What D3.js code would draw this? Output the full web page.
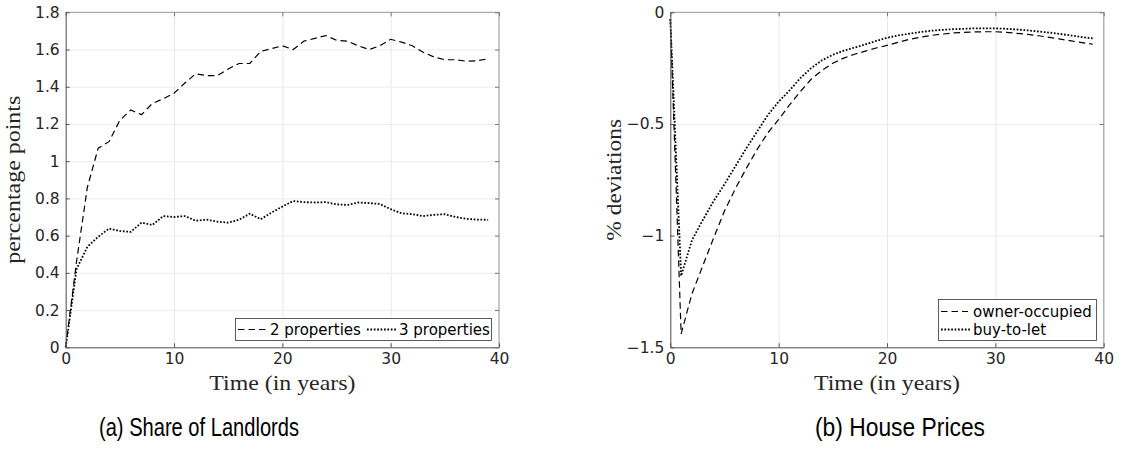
<!DOCTYPE html>
<html><head><meta charset="utf-8">
<script src="https://cdn.jsdelivr.net/npm/d3@7"></script>
<style>body{margin:0;background:#fff} svg{display:block}</style>
</head><body><svg id="c" width="1122" height="454"></svg>
<script>
// ---- data ----
const years = [0,1,2,3,4,5,6,7,8,9,10,11,12,13,14,15,16,17,18,19,20,21,22,23,24,25,26,27,28,29,30,31,32,33,34,35,36,37,38,39];
const twoProperties = [0,0.46,0.86,1.07,1.105,1.22,1.275,1.25,1.31,1.335,1.365,1.42,1.47,1.46,1.46,1.495,1.525,1.525,1.59,1.605,1.62,1.60,1.645,1.66,1.675,1.65,1.645,1.62,1.60,1.62,1.655,1.64,1.62,1.585,1.56,1.545,1.545,1.537,1.54,1.55];
const threeProperties = [0,0.42,0.54,0.594,0.638,0.625,0.62,0.67,0.657,0.705,0.70,0.705,0.68,0.686,0.675,0.67,0.685,0.718,0.688,0.724,0.756,0.786,0.78,0.778,0.78,0.768,0.765,0.778,0.775,0.77,0.742,0.72,0.715,0.705,0.712,0.715,0.70,0.69,0.686,0.685];
const ownerOccupied = [-0.03,-1.44,-1.26,-1.135,-1.01,-0.89,-0.79,-0.70,-0.615,-0.54,-0.48,-0.415,-0.355,-0.30,-0.26,-0.228,-0.205,-0.188,-0.174,-0.16,-0.148,-0.135,-0.122,-0.112,-0.104,-0.098,-0.093,-0.09,-0.088,-0.087,-0.087,-0.09,-0.094,-0.099,-0.105,-0.112,-0.12,-0.128,-0.136,-0.143];
const buyToLet = [-0.03,-1.18,-1.02,-0.93,-0.845,-0.77,-0.69,-0.61,-0.535,-0.46,-0.40,-0.35,-0.295,-0.25,-0.215,-0.19,-0.172,-0.158,-0.144,-0.128,-0.114,-0.104,-0.096,-0.089,-0.083,-0.079,-0.076,-0.074,-0.072,-0.072,-0.072,-0.074,-0.077,-0.081,-0.086,-0.091,-0.097,-0.104,-0.111,-0.117];

const xTicks = [0,10,20,30,40];
const xTickLabels = ["0","10","20","30","40"];
const leftYTicks = [0,0.2,0.4,0.6,0.8,1,1.2,1.4,1.6,1.8];
const leftYTickLabels = ["0","0.2","0.4","0.6","0.8","1","1.2","1.4","1.6","1.8"];
const rightYTicks = [-1.5,-1,-0.5,0];
const rightYTickLabels = ["\u22121.5","\u22121","\u22120.5","0"];
const leftSeriesNames = ["2 properties","3 properties"];
const rightSeriesNames = ["owner-occupied","buy-to-let"];

// ---- drawing ----
const svg = d3.select("#c");
const tickFont = "'DejaVu Sans', sans-serif";
const serifFont = "'Liberation Serif', serif";
const capFont = "'Liberation Sans', sans-serif";
const styles = {
  dashed: {dash: "6.5,4", width: 1.2},
  dotted: {dash: "1.7,1.7", width: 1.8}
};

function panel(cfg) {
  const x = d3.scaleLinear().domain([0,40]).range([cfg.x0, cfg.x1]);
  const y = d3.scaleLinear().domain(cfg.ydom).range([347.3, 12.3]);
  const g = svg.append("g");
  const top = y.range()[1], bot = y.range()[0];
  const L = x.range()[0], R = x.range()[1];

  // grid
  g.append("g").attr("transform", `translate(0,${bot})`)
    .call(d3.axisBottom(x).tickValues(xTicks).tickSize(-(bot-top)).tickFormat(""))
    .call(s => { s.select(".domain").remove(); s.selectAll("line").attr("stroke","#e8e8e8").attr("stroke-width",1); });
  g.append("g").attr("transform", `translate(${L},0)`)
    .call(d3.axisLeft(y).tickValues(cfg.yticks).tickSize(-(R-L)).tickFormat(""))
    .call(s => { s.select(".domain").remove(); s.selectAll("line").attr("stroke","#ececec").attr("stroke-width",1); });

  // lines
  const line = d3.line().x((d,i) => x(years[i])).y(d => y(d));
  cfg.series.forEach(s => {
    g.append("path").datum(s.values).attr("d", line)
      .attr("fill","none").attr("stroke","#000")
      .attr("stroke-width", styles[s.style].width)
      .attr("stroke-dasharray", styles[s.style].dash);
  });

  // box
  g.append("line").attr("x1",L).attr("x2",R).attr("y1",top).attr("y2",top).attr("stroke","#9a9a9a");
  g.append("line").attr("x1",R).attr("x2",R).attr("y1",top).attr("y2",bot).attr("stroke","#b0b0b0").attr("stroke-width",1.3);

  // axes (inside ticks)
  const fmtX = d => xTickLabels[xTicks.indexOf(d)];
  const fmtY = d => cfg.ylabels[cfg.yticks.indexOf(d)];
  const styleAxis = s => {
    s.select(".domain").attr("stroke","#555");
    s.selectAll(".tick line").attr("stroke","#555");
    s.selectAll("text").attr("fill","#262626").style("font-family", tickFont).style("font-size","15.5px");
  };
  g.append("g").attr("transform", `translate(0,${bot})`)
    .call(d3.axisBottom(x).tickValues(xTicks).tickFormat(fmtX).tickSizeInner(-4).tickSizeOuter(0).tickPadding(6))
    .call(styleAxis);
  g.append("g").attr("transform", `translate(0,${top})`)
    .call(d3.axisTop(x).tickValues(xTicks).tickFormat("").tickSizeInner(-4).tickSizeOuter(0))
    .call(s => { s.select(".domain").remove(); s.selectAll(".tick line").attr("stroke","#777"); });
  g.append("g").attr("transform", `translate(${L},0)`)
    .call(d3.axisLeft(y).tickValues(cfg.yticks).tickFormat(fmtY).tickSizeInner(-4).tickSizeOuter(0).tickPadding(6))
    .call(styleAxis);
  g.append("g").attr("transform", `translate(${R},0)`)
    .call(d3.axisRight(y).tickValues(cfg.yticks).tickFormat("").tickSizeInner(-4).tickSizeOuter(0))
    .call(s => { s.select(".domain").remove(); s.selectAll(".tick line").attr("stroke","#777"); });

  // axis labels
  svg.append("text").attr("x", (L+R)/2).attr("y", 390).attr("text-anchor","middle")
    .attr("textLength", 146).attr("lengthAdjust","spacingAndGlyphs")
    .style("font-family", serifFont).style("font-size","22px").attr("fill","#262626").text("Time (in years)");
  svg.append("text").attr("transform", `translate(${cfg.ylabX},${(top+bot)/2}) rotate(-90)`)
    .attr("text-anchor","middle").attr("textLength", cfg.ylabLen).attr("lengthAdjust","spacingAndGlyphs")
    .style("font-family", serifFont).style("font-size","22px").attr("fill","#262626").text(cfg.ylabel);
  // caption
  svg.append("text").attr("x", cfg.capX).attr("y", 436).attr("text-anchor","middle")
    .attr("textLength", cfg.capLen).attr("lengthAdjust","spacingAndGlyphs")
    .style("font-family", capFont).style("font-size","25px").attr("fill","#000").text(cfg.caption);

  // legend
  const lg = cfg.legend;
  g.append("rect").attr("x",lg.x).attr("y",lg.y).attr("width",lg.w).attr("height",lg.h)
    .attr("fill","#fff").attr("stroke","#333").attr("stroke-width",0.8);
  lg.items.forEach(it => {
    g.append("line").attr("x1",it.lx1).attr("x2",it.lx2).attr("y1",it.ly).attr("y2",it.ly)
      .attr("stroke","#000").attr("stroke-width", styles[it.style].width).attr("stroke-dasharray", styles[it.style].dash);
    g.append("text").attr("x",it.tx).attr("y",it.ly+5).style("font-family", tickFont).style("font-size","15px")
      .attr("fill","#000").text(it.name);
  });
}

panel({
  x0: 65.7, x1: 499, ydom: [0,1.8], yticks: leftYTicks, ylabels: leftYTickLabels,
  ylabel: "percentage points", ylabX: 20, ylabLen: 168, capX: 199, capLen: 200, caption: "(a) Share of Landlords",
  series: [{values: twoProperties, style: "dashed"}, {values: threeProperties, style: "dotted"}],
  legend: {x: 235.5, y: 318.5, w: 256, h: 22, items: [
    {name: leftSeriesNames[0], style: "dashed", lx1: 238, lx2: 266, ly: 329.5, tx: 270},
    {name: leftSeriesNames[1], style: "dotted", lx1: 367, lx2: 396, ly: 329.5, tx: 399}
  ]}
});
panel({
  x0: 670.3, x1: 1103.7, ydom: [-1.5,0], yticks: rightYTicks, ylabels: rightYTickLabels,
  ylabel: "% deviations", ylabX: 621, ylabLen: 122, capX: 900, capLen: 170, caption: "(b) House Prices",
  series: [{values: ownerOccupied, style: "dashed"}, {values: buyToLet, style: "dotted"}],
  legend: {x: 938.5, y: 299.5, w: 158, h: 41, items: [
    {name: rightSeriesNames[0], style: "dashed", lx1: 941, lx2: 968, ly: 311.5, tx: 973},
    {name: rightSeriesNames[1], style: "dotted", lx1: 941, lx2: 970, ly: 329.5, tx: 973}
  ]}
});
</script></body></html>
